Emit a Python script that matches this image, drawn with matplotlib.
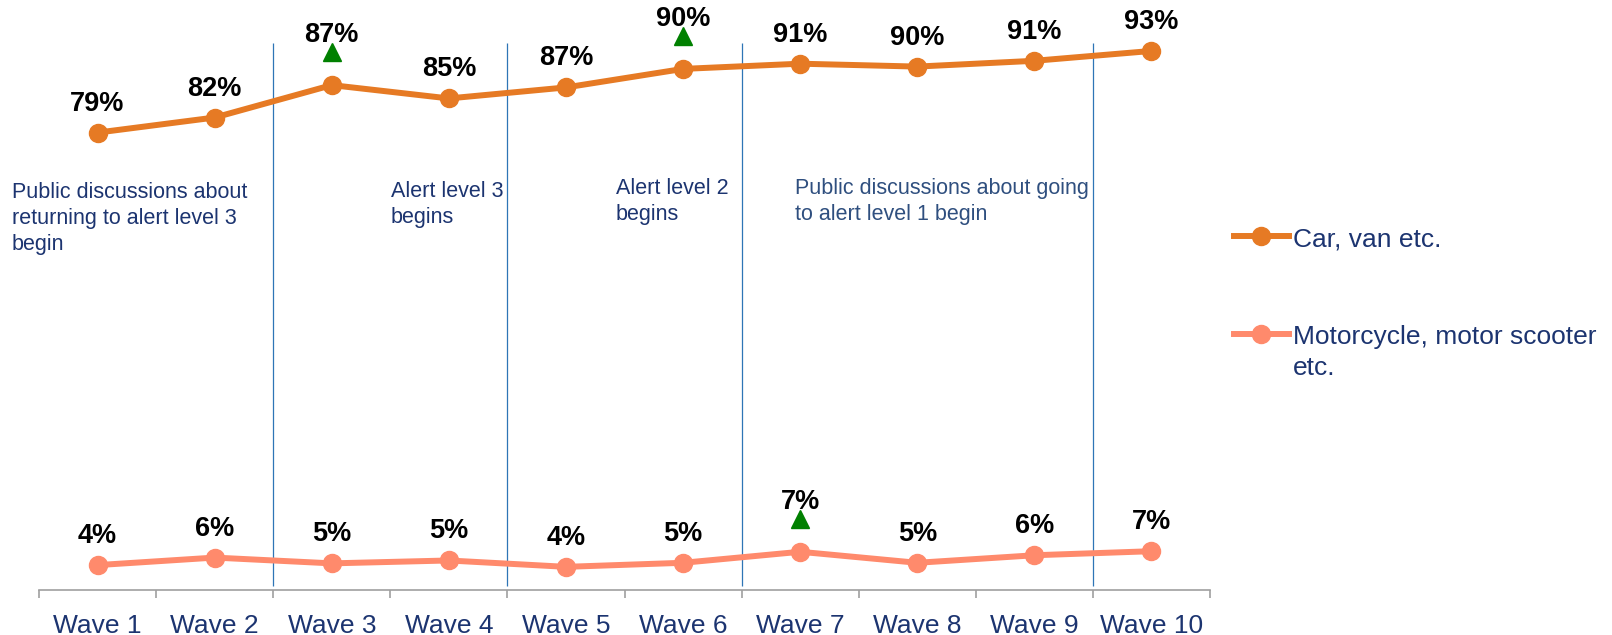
import matplotlib
matplotlib.use("Agg")
import matplotlib.pyplot as plt
from matplotlib.lines import Line2D
from matplotlib.transforms import offset_copy

plt.rcParams['font.family'] = ['Liberation Sans', 'DejaVu Sans']

waves = ['Wave 1', 'Wave 2', 'Wave 3', 'Wave 4', 'Wave 5',
         'Wave 6', 'Wave 7', 'Wave 8', 'Wave 9', 'Wave 10']
car = [79.0, 81.6, 87.2, 84.9, 86.8, 90.0, 90.9, 90.4, 91.4, 93.1]
car_labels = [79, 82, 87, 85, 87, 90, 91, 90, 91, 93]
moto = [4.3, 5.6, 4.6, 5.1, 4.0, 4.7, 6.6, 4.7, 6.0, 6.7]
moto_labels = [4, 6, 5, 5, 4, 5, 7, 5, 6, 7]
car_up = [2, 5]      # waves with significant increase (index)
moto_up = [6]
breaks = [1.5, 3.5, 5.5, 8.5]   # vertical separators between waves

events = [
    (12, 195, 'Public discussions about\nreturning to alert level 3\nbegin', '#1c3470'),
    (391, 194, 'Alert level 3\nbegins', '#1c3470'),
    (616, 191, 'Alert level 2\nbegins', '#1c3470'),
    (795, 191, 'Public discussions about going\nto alert level 1 begin', '#2f4f7f'),
]

W, H = 1612, 635
car_col = '#e67a24'
moto_col = '#ff8a6c'
navy = '#1c3470'

fig = plt.figure(figsize=(W / 100, H / 100), dpi=100)
ax = fig.add_axes([39 / W, 1 - 590 / H, (1210 - 39) / W, (590 - 11) / H])

x = list(range(len(waves)))
ax.plot(x, car, color=car_col, lw=4.3, marker='o', ms=13, zorder=3)
ax.plot(x, moto, color=moto_col, lw=4.3, marker='o', ms=13, zorder=3)
ax.vlines(breaks, 0.7, 94.5, color='#2e75b6', lw=0.9, zorder=2)

ax.set_xlim(-0.5, 9.5)
ax.set_ylim(0, 100)

tri_tr = offset_copy(ax.transData, fig=fig, y=33, units='dots')
for series, labels, ups in [(car, car_labels, car_up), (moto, moto_labels, moto_up)]:
    for i, (v, lab) in enumerate(zip(series, labels)):
        off = 50 if i in ups else 29
        ax.annotate(f'{lab}%', (i, v), xytext=(0, off), textcoords='offset pixels',
                    ha='center', va='center', fontsize=19.5, fontweight='bold',
                    color='black', annotation_clip=False)
    for i in ups:
        ax.plot([i], [series[i]], marker='^', ms=13, color='#008000',
                transform=tri_tr, clip_on=False, zorder=4)

for px, py, txt, col in events:
    fig.text(px / W, 1 - (py - 13) / H, txt, ha='left', va='top', fontsize=15.5,
             color=col, linespacing=1.3)

# axes styling
for s in ['top', 'right', 'left']:
    ax.spines[s].set_visible(False)
ax.spines['bottom'].set_color('#a0a0a0')
ax.spines['bottom'].set_linewidth(1.2)
ax.set_yticks([])
ax.set_xticks(x)
ax.set_xticklabels(waves, fontsize=19, color=navy)
ax.tick_params(axis='x', which='major', length=0, pad=17)
ax.set_xticks([i - 0.5 for i in range(len(waves) + 1)], minor=True)
ax.tick_params(axis='x', which='minor', length=6, width=1.2, color='#a0a0a0')

# legend
for ly, col, txt in [(236, car_col, 'Car, van etc.'),
                     (334, moto_col, 'Motorcycle, motor scooter\netc.')]:
    fig.add_artist(Line2D([1234 / W, 1289 / W], [1 - ly / H, 1 - ly / H],
                          color=col, lw=4.3))
    fig.add_artist(Line2D([1261 / W], [1 - ly / H], color=col, marker='o', ms=13))
    fig.text(1293 / W, 1 - (ly - 9) / H, txt, ha='left', va='top', fontsize=19,
             color=navy, linespacing=1.35)

fig.savefig('out.png', dpi=100)
